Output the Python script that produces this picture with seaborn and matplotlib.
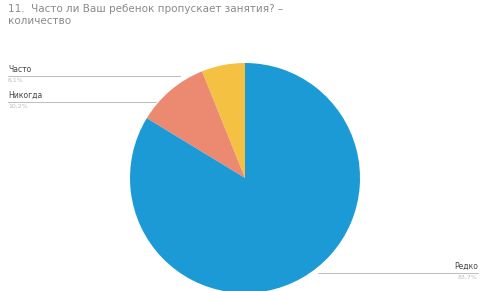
import matplotlib.pyplot as plt
import seaborn as sns

# answers and shares (percent)
answers = ['Часто', 'Никогда', 'Редко']
shares = [6.1, 10.2, 83.7]
share_labels = ['6,1%', '10,2%', '83,7%']
colors = ['#f4c142', '#eb8a70', '#1c9ad6']

sns.set_theme(style='white')
plt.rcParams['font.family'] = ['DejaVu Sans']

fig = plt.figure(figsize=(4.81, 2.91), dpi=100)
ax = fig.add_axes([0, 0, 1, 1])

# pie in pixel units
ax.pie(shares, colors=colors, startangle=90, counterclock=True,
       center=(245, 113), radius=115, wedgeprops=dict(linewidth=0))
ax.set_xlim(0, 481)
ax.set_ylim(0, 291)
ax.set_aspect('equal')
ax.axis('off')

# title
fig.text(0.017, 0.985, '11.  Часто ли Ваш ребенок пропускает занятия? –\nколичество',
         ha='left', va='top', fontsize=7.5, color='#8a8a8a', linespacing=1.25)

# leader lines and labels
leaders = [
    (8, 180, 215, 'left'),
    (8, 156, 189, 'left'),
    (318, 478, 18, 'right'),
]
for (x0, x1, y, side), name, pct in zip(leaders, answers, share_labels):
    ax.plot([x0, x1], [y, y], color='#bbbbbb', linewidth=0.7)
    tx = x0 if side == 'left' else x1
    ax.text(tx, y + 2, name, ha=side, va='bottom', fontsize=5.5, color='#444444')
    ax.text(tx, y - 2, pct, ha=side, va='top', fontsize=4.5, color='#bbbbbb')

plt.savefig('out.png', dpi=100)
